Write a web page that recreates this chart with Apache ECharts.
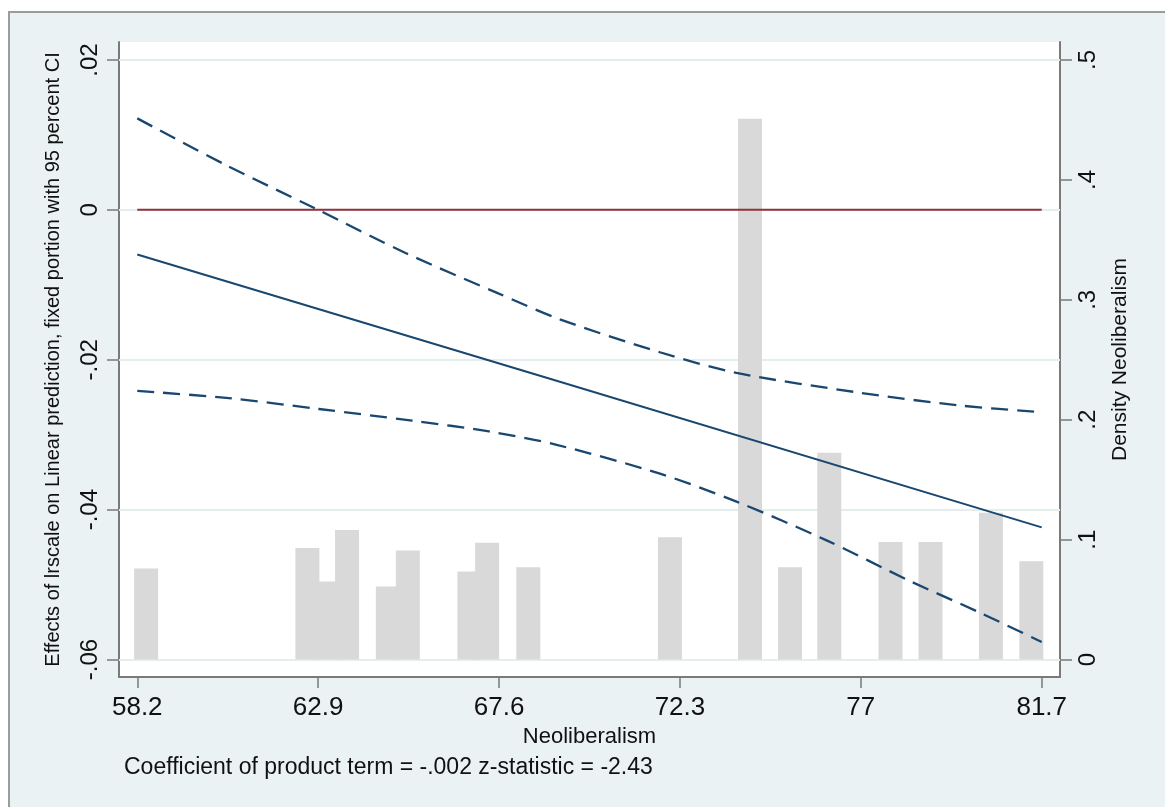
<!DOCTYPE html>
<html><head><meta charset="utf-8">
<script src="https://cdn.jsdelivr.net/npm/echarts@6/dist/echarts.min.js"></script>
<style>html,body{margin:0;padding:0;background:#fff;}#c{width:1165px;height:807px;}</style>
</head><body><div id="c"></div>
<script>
// ---- data ----
const xTicks = [58.2, 62.9, 67.6, 72.3, 77, 81.7];
const xTickLabels = ['58.2', '62.9', '67.6', '72.3', '77', '81.7'];
const yTicks = [-0.06, -0.04, -0.02, 0, 0.02];
const yTickLabels = ['-.06', '-.04', '-.02', '0', '.02'];
const densTicks = [0, 0.1, 0.2, 0.3, 0.4, 0.5];
const densTickLabels = ['0', '.1', '.2', '.3', '.4', '.5'];

const histX = [58.43, 62.62, 63.15, 63.65, 64.71, 65.23, 66.83, 67.29, 68.36, 72.04, 74.12, 75.16, 76.18, 77.77, 78.81, 80.38, 81.43];
const histDensity = [0.076, 0.093, 0.065, 0.108, 0.061, 0.091, 0.0735, 0.0975, 0.077, 0.102, 0.451, 0.077, 0.1725, 0.098, 0.098, 0.1225, 0.082];

const effectX = [58.2, 69.18, 81.7];
const effect = [-0.00596, -0.02293, -0.04237];

const upperX = [58.2, 60.50, 62.83, 65.17, 67.55, 69.18, 71.78, 73.77, 76.98, 79.57, 81.7];
const upperCI = [0.01221, 0.00599, 0.00017, -0.00575, -0.01108, -0.0146, -0.0190, -0.02175, -0.0244, -0.0261, -0.0270];

const lowerX = [58.2, 60.58, 62.92, 65.34, 67.34, 69.07, 71.78, 73.77, 76.11, 78.28, 80.09, 81.7];
const lowerCI = [-0.02415, -0.02512, -0.02657, -0.02812, -0.02957, -0.03132, -0.0352, -0.03893, -0.0441, -0.04953, -0.05373, -0.05767];

const zeroX = [58.2, 81.7];
const zeroY = [0, 0];

const xTitle = 'Neoliberalism';
const yTitle = 'Effects of lrscale on Linear prediction, fixed portion with 95 percent CI';
const y2Title = 'Density Neoliberalism';
const note = 'Coefficient of product term = -.002 z-statistic = -2.43';

// ---- chart ----
const pairs = (xs, ys) => xs.map((x, i) => [x, ys[i]]);
const FONT = '"Liberation Sans", Arial, Helvetica, sans-serif';
const AXIS = '#7a7a7a';
const NAVY = '#1a476f';
const GRIDC = '#e4eeef';

const chart = echarts.init(document.getElementById('c'), null, {renderer: 'canvas'});
chart.setOption({
  animation: false,
  backgroundColor: '#ffffff',
  textStyle: {fontFamily: FONT},
  graphic: [
    {type: 'rect', z: -10, shape: {x: 9, y: 12, width: 1200, height: 900},
     style: {fill: '#eaf2f3', stroke: '#9c9c9c', lineWidth: 2}},
    {type: 'text', left: 124, top: 756, z: 10,
     style: {text: note, font: '23px ' + FONT, fill: '#111'}}
  ],
  grid: {left: 119, right: 105, top: 42, bottom: 130, show: true,
         backgroundColor: '#ffffff', borderWidth: 0},
  xAxis: {
    type: 'value', min: 57.725, max: 82.175,
    name: xTitle, nameLocation: 'middle', nameGap: 46,
    nameTextStyle: {fontSize: 22, color: '#111', fontFamily: FONT},
    axisLine: {show: true, onZero: false, lineStyle: {color: AXIS, width: 2}},
    axisTick: {show: true, customValues: xTicks, length: 11, lineStyle: {color: AXIS, width: 1.5}},
    axisLabel: {customValues: xTicks, fontSize: 26, color: '#111', margin: 18, fontFamily: FONT,
      formatter: v => { const i = xTicks.findIndex(t => Math.abs(t - v) < 1e-6); return i >= 0 ? xTickLabels[i] : ''; }},
    splitLine: {show: false}
  },
  yAxis: [{
    type: 'value', position: 'left', min: -0.06233, max: 0.0224,
    name: yTitle, nameLocation: 'middle', nameGap: 56,
    nameTextStyle: {fontSize: 20, color: '#111', fontFamily: FONT},
    axisLine: {show: true, onZero: false, lineStyle: {color: AXIS, width: 2}},
    axisTick: {show: true, customValues: yTicks, length: 12, lineStyle: {color: AXIS, width: 1.5}},
    axisLabel: {customValues: yTicks, rotate: 90, fontSize: 24, color: '#111', margin: 17, fontFamily: FONT,
      formatter: v => { const i = yTicks.findIndex(t => Math.abs(t - v) < 1e-9); return i >= 0 ? yTickLabels[i] : ''; }},
    splitLine: {show: false}
  }, {
    type: 'value', position: 'right', min: -0.01456, max: 0.515,
    name: y2Title, nameLocation: 'middle', nameGap: 50,
    nameTextStyle: {fontSize: 21, color: '#111', fontFamily: FONT},
    axisLine: {show: true, onZero: false, lineStyle: {color: AXIS, width: 2}},
    axisTick: {show: true, customValues: densTicks, length: 12, lineStyle: {color: AXIS, width: 1.5}},
    axisLabel: {customValues: densTicks, rotate: 90, fontSize: 24, color: '#111', margin: 16, fontFamily: FONT,
      formatter: v => { const i = densTicks.findIndex(t => Math.abs(t - v) < 1e-9); return i >= 0 ? densTickLabels[i] : ''; }},
    splitLine: {show: false}
  }],
  series: [
    {type: 'line', yAxisIndex: 0, data: [], silent: true, z: 1,
     markLine: {silent: true, z: 1, symbol: ['none', 'none'], label: {show: false},
       lineStyle: {color: GRIDC, width: 2, type: 'solid'},
       data: yTicks.map(v => ({yAxis: v}))}},
    {type: 'bar', yAxisIndex: 1, data: pairs(histX, histDensity), barWidth: 24, z: 2,
     itemStyle: {color: '#d9d9d9'}, silent: true},
    {type: 'line', yAxisIndex: 0, data: pairs(zeroX, zeroY), z: 6, symbol: 'none', silent: true,
     lineStyle: {color: '#93303d', width: 2}},
    {type: 'line', yAxisIndex: 0, data: pairs(upperX, upperCI), z: 7, symbol: 'none', smooth: 0.3, silent: true,
     lineStyle: {color: NAVY, width: 2.3, type: [17, 9]}},
    {type: 'line', yAxisIndex: 0, data: pairs(lowerX, lowerCI), z: 7, symbol: 'none', smooth: 0.3, silent: true,
     lineStyle: {color: NAVY, width: 2.3, type: [17, 9]}},
    {type: 'line', yAxisIndex: 0, data: pairs(effectX, effect), z: 8, symbol: 'none', silent: true,
     lineStyle: {color: NAVY, width: 2}}
  ]
});
</script>
</body></html>
